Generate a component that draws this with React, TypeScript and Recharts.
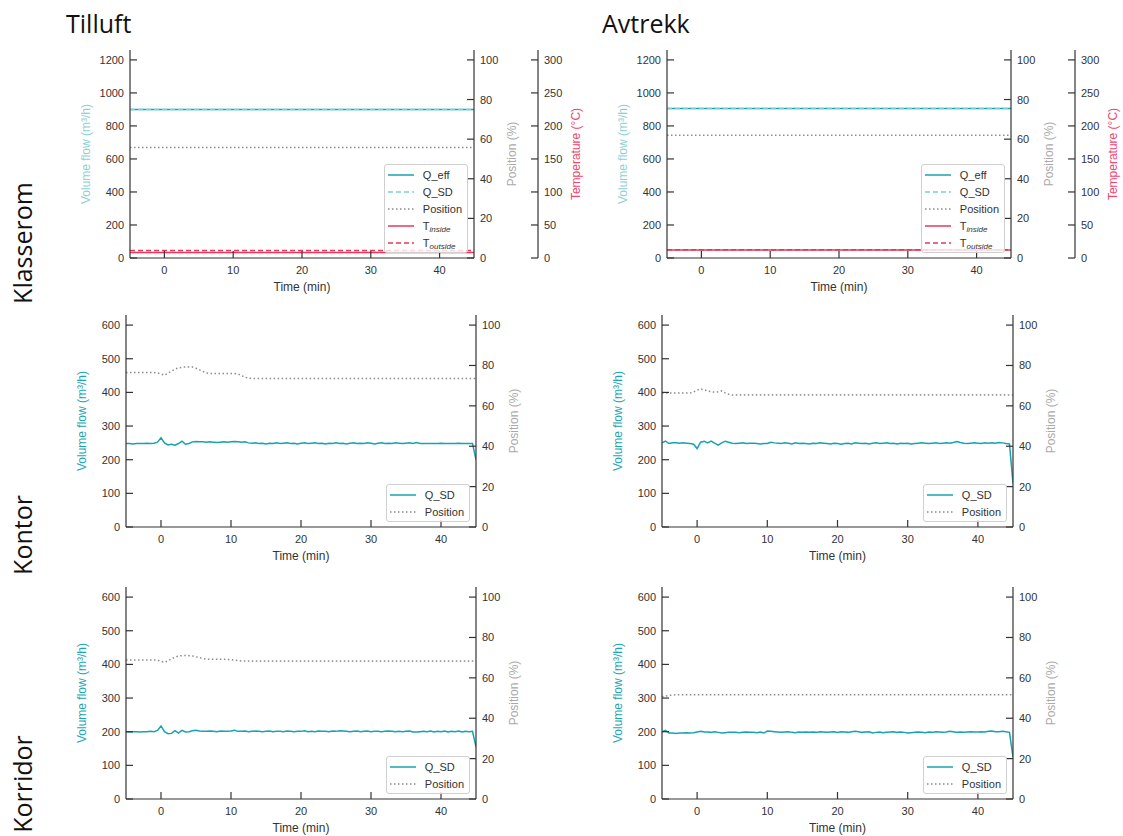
import React from 'react';
import { LineChart, Line, XAxis, YAxis, Legend } from 'recharts';

const FONT = '"Liberation Sans", Arial, sans-serif';
const TITLE_FONT = '"Open Sans", "Noto Sans", sans-serif';
const TEAL = '#17a3af';
const TEAL_LIGHT = '#7fcdcf';
const GREY = '#8c8c8c';
const RED = '#e8375b';
const AXIS = '#333';

// time axis (min), 0.5 min steps
const time = [
  -5, -4.5, -4, -3.5, -3, -2.5, -2, -1.5, -1, -0.5,
  0, 0.5, 1, 1.5, 2, 2.5, 3, 3.5, 4, 4.5,
  5, 5.5, 6, 6.5, 7, 7.5, 8, 8.5, 9, 9.5,
  10, 10.5, 11, 11.5, 12, 12.5, 13, 13.5, 14, 14.5,
  15, 15.5, 16, 16.5, 17, 17.5, 18, 18.5, 19, 19.5,
  20, 20.5, 21, 21.5, 22, 22.5, 23, 23.5, 24, 24.5,
  25, 25.5, 26, 26.5, 27, 27.5, 28, 28.5, 29, 29.5,
  30, 30.5, 31, 31.5, 32, 32.5, 33, 33.5, 34, 34.5,
  35, 35.5, 36, 36.5, 37, 37.5, 38, 38.5, 39, 39.5,
  40, 40.5, 41, 41.5, 42, 42.5, 43, 43.5, 44, 44.5,
  45,
];

// Klasserom (constant over the period)
const klasseromTime = [-5, 45];
const tilluftQEff = [900, 900];
const tilluftQSd = [900, 900];
const tilluftPos = [55.8, 55.8];
const tilluftTInside = [8.5, 8.5];
const tilluftTOutside = [11.5, 11.5];
const avtrekkQEff = [905, 905];
const avtrekkQSd = [905, 905];
const avtrekkPos = [62, 62];
const avtrekkTInside = [12, 12];
const avtrekkTOutside = [12.5, 12.5];

// Kontor
const kontorTilluftQ = [
  248, 248, 247, 248, 248, 248, 249, 248, 249, 252,
  265, 250, 244, 246, 243, 248, 255, 246, 248, 253,
  254, 253, 253, 252, 253, 252, 251, 252, 253, 252,
  253, 254, 253, 252, 253, 250, 249, 250, 248, 249,
  247, 249, 248, 250, 248, 249, 250, 248, 249, 247,
  249, 250, 248, 249, 250, 248, 249, 247, 249, 248,
  250, 248, 249, 247, 249, 250, 248, 249, 248, 250,
  249, 247, 249, 250, 248, 249, 248, 250, 249, 248,
  249, 250, 248, 251, 248, 248, 248, 248, 248, 248,
  249, 248, 248, 248, 248, 249, 248, 248, 248, 248,
  200,
];
const kontorTilluftPos = [
  76.5, 76.5, 76.5, 76.5, 76.5, 76.5, 76.5, 76.5, 76.5, 76.3,
  75.8, 75.2, 76.2, 77.2, 78.2, 78.8, 79.1, 79.3, 79.3, 79.2,
  78.6, 77.8, 77.0, 76.3, 76.0, 76.0, 76.0, 76.0, 76.0, 76.0,
  76.0, 76.0, 75.8, 75.0, 74.2, 73.7, 73.6, 73.6, 73.6, 73.6,
  73.6, 73.6, 73.6, 73.6, 73.6, 73.6, 73.6, 73.6, 73.6, 73.6,
  73.6, 73.6, 73.6, 73.6, 73.6, 73.6, 73.6, 73.6, 73.6, 73.6,
  73.6, 73.6, 73.6, 73.6, 73.6, 73.6, 73.6, 73.6, 73.6, 73.6,
  73.6, 73.6, 73.6, 73.6, 73.6, 73.6, 73.6, 73.6, 73.6, 73.6,
  73.6, 73.6, 73.6, 73.6, 73.6, 73.6, 73.6, 73.6, 73.6, 73.6,
  73.6, 73.6, 73.6, 73.6, 73.6, 73.6, 73.6, 73.6, 73.6, 73.6,
  73.6,
];
const kontorAvtrekkQ = [
  250, 255, 248, 250, 250, 249, 250, 249, 248, 246,
  233, 252, 255, 250, 255, 249, 243, 250, 255, 252,
  249, 248, 249, 250, 248, 249, 249, 248, 247, 248,
  248, 252, 250, 249, 248, 250, 249, 247, 250, 248,
  249, 248, 247, 249, 248, 250, 249, 248, 247, 249,
  248, 246, 248, 249, 247, 250, 249, 248, 249, 247,
  249, 250, 248, 249, 250, 248, 249, 247, 249, 248,
  249, 247, 248, 249, 250, 249, 248, 249, 250, 248,
  249, 250, 249, 251, 254, 251, 249, 248, 249, 250,
  249, 248, 250, 249, 250, 249, 251, 250, 248, 247,
  130,
];
const kontorAvtrekkPos = [
  66.4, 66.4, 66.4, 66.4, 66.4, 66.4, 66.4, 66.4, 66.4, 66.8,
  67.8, 68.4, 67.9, 67.4, 67.0, 66.8, 67.0, 67.4, 66.4, 65.7,
  65.4, 65.4, 65.4, 65.4, 65.4, 65.4, 65.4, 65.4, 65.4, 65.4,
  65.4, 65.4, 65.4, 65.4, 65.4, 65.4, 65.4, 65.4, 65.4, 65.4,
  65.4, 65.4, 65.4, 65.4, 65.4, 65.4, 65.4, 65.4, 65.4, 65.4,
  65.4, 65.4, 65.4, 65.4, 65.4, 65.4, 65.4, 65.4, 65.4, 65.4,
  65.4, 65.4, 65.4, 65.4, 65.4, 65.4, 65.4, 65.4, 65.4, 65.4,
  65.4, 65.4, 65.4, 65.4, 65.4, 65.4, 65.4, 65.4, 65.4, 65.4,
  65.4, 65.4, 65.4, 65.4, 65.4, 65.4, 65.4, 65.4, 65.4, 65.4,
  65.4, 65.4, 65.4, 65.4, 65.4, 65.4, 65.4, 65.4, 65.4, 65.4,
  65.4,
];

// Korridor
const korridorTilluftQ = [
  200, 199, 200, 200, 199, 200, 200, 201, 200, 204,
  217, 200, 194, 195, 203, 196, 204, 199, 200, 203,
  204, 202, 201, 201, 202, 201, 200, 202, 201, 201,
  202, 204, 201, 201, 202, 200, 201, 202, 201, 200,
  201, 202, 200, 201, 201, 200, 202, 201, 200, 201,
  201, 203, 200, 201, 200, 202, 201, 201, 200, 202,
  201, 203, 202, 201, 200, 201, 202, 200, 201, 202,
  200, 201, 201, 200, 201, 202, 201, 200, 201, 200,
  201, 202, 199, 199, 200, 201, 200, 202, 199, 201,
  200, 202, 199, 201, 200, 202, 199, 201, 200, 201,
  155,
];
const korridorTilluftPos = [
  68.9, 68.9, 68.9, 68.9, 68.9, 68.9, 68.9, 68.9, 68.9, 68.7,
  68.2, 67.7, 68.4, 69.4, 70.3, 70.8, 71.0, 71.1, 71.0, 70.8,
  70.4, 70.0, 69.6, 69.3, 69.2, 69.2, 69.2, 69.2, 69.2, 69.1,
  69.0, 68.8, 68.5, 68.4, 68.4, 68.4, 68.4, 68.4, 68.4, 68.4,
  68.4, 68.4, 68.4, 68.4, 68.4, 68.4, 68.4, 68.4, 68.4, 68.4,
  68.4, 68.4, 68.4, 68.4, 68.4, 68.4, 68.4, 68.4, 68.4, 68.4,
  68.4, 68.4, 68.4, 68.4, 68.4, 68.4, 68.4, 68.4, 68.4, 68.4,
  68.4, 68.4, 68.4, 68.4, 68.4, 68.4, 68.4, 68.4, 68.4, 68.4,
  68.4, 68.4, 68.4, 68.4, 68.4, 68.4, 68.4, 68.4, 68.4, 68.4,
  68.4, 68.4, 68.4, 68.4, 68.4, 68.4, 68.4, 68.4, 68.4, 68.4,
  68.4,
];
const korridorAvtrekkQ = [
  200, 204, 196, 196, 195, 196, 196, 197, 196, 197,
  199, 201, 199, 199, 198, 200, 198, 196, 197, 198,
  198, 198, 197, 198, 199, 198, 198, 197, 199, 196,
  202, 201, 200, 199, 198, 199, 200, 198, 197, 199,
  198, 199, 198, 199, 198, 200, 199, 198, 199, 200,
  198, 200, 199, 198, 200, 201, 200, 198, 199, 200,
  196, 198, 199, 197, 198, 199, 200, 198, 199, 198,
  196, 197, 198, 199, 198, 197, 199, 198, 200, 199,
  198, 199, 201, 200, 198, 199, 198, 199, 200, 199,
  199, 200, 199, 201, 202, 200, 200, 201, 200, 198,
  125,
];
const korridorAvtrekkPos = [
  50.6, 51.0, 51.3, 51.5, 51.6, 51.6, 51.6, 51.6, 51.6, 51.6,
  51.6, 51.6, 51.6, 51.6, 51.6, 51.6, 51.6, 51.6, 51.6, 51.6,
  51.6, 51.6, 51.6, 51.6, 51.6, 51.6, 51.6, 51.6, 51.6, 51.6,
  51.6, 51.6, 51.6, 51.6, 51.6, 51.6, 51.6, 51.6, 51.6, 51.6,
  51.6, 51.6, 51.6, 51.6, 51.6, 51.6, 51.6, 51.6, 51.6, 51.6,
  51.6, 51.6, 51.6, 51.6, 51.6, 51.6, 51.6, 51.6, 51.6, 51.6,
  51.6, 51.6, 51.6, 51.6, 51.6, 51.6, 51.6, 51.6, 51.6, 51.6,
  51.6, 51.6, 51.6, 51.6, 51.6, 51.6, 51.6, 51.6, 51.6, 51.6,
  51.6, 51.6, 51.6, 51.6, 51.6, 51.6, 51.6, 51.6, 51.6, 51.6,
  51.6, 51.6, 51.6, 51.6, 51.6, 51.6, 51.6, 51.6, 51.6, 51.6,
  51.6,
];

const xTicks = [0, 10, 20, 30, 40];
const posTicks = [0, 20, 40, 60, 80, 100];
const tempTicks = [0, 50, 100, 150, 200, 250, 300];
const flowTicksBig = [0, 200, 400, 600, 800, 1000, 1200];
const flowTicksSmall = [0, 100, 200, 300, 400, 500, 600];

const klasseromRows = (qEff: number[], qSd: number[], pos: number[], tIn: number[], tOut: number[]) =>
  klasseromTime.map((t, i) => ({ t, qEff: qEff[i], qSd: qSd[i], pos: pos[i], tIn: tIn[i], tOut: tOut[i] }));
const rows = (q: number[], pos: number[]) => time.map((t, i) => ({ t, q: q[i], pos: pos[i] }));

const TICK_LEN = 7;
const Y_GAP = 6;
const X_GAP = 8;
const axisLine = { stroke: AXIS, strokeWidth: 1.2 };

const leftTick = (p: any) => {
  const ax = p.x + Y_GAP;
  return (
    <g>
      <line x1={ax} x2={ax + TICK_LEN} y1={p.y} y2={p.y} stroke={AXIS} strokeWidth={1.2} />
      <text x={p.x} y={p.y + 4} textAnchor="end" fontSize={11} fill={AXIS} fontFamily={FONT}>{p.payload.value}</text>
    </g>
  );
};

const rightTick = (p: any) => {
  const ax = p.x - Y_GAP;
  return (
    <g>
      <line x1={ax - TICK_LEN} x2={ax} y1={p.y} y2={p.y} stroke={AXIS} strokeWidth={1.2} />
      <text x={p.x} y={p.y + 4} textAnchor="start" fontSize={11} fill={AXIS} fontFamily={FONT}>{p.payload.value}</text>
    </g>
  );
};

const bottomTick = (p: any) => {
  const ay = p.y - X_GAP;
  return (
    <g>
      <line x1={p.x} x2={p.x} y1={ay - TICK_LEN} y2={ay} stroke={AXIS} strokeWidth={1.2} />
      <text x={p.x} y={ay + 16} textAnchor="middle" fontSize={11} fill={AXIS} fontFamily={FONT}>{p.payload.value}</text>
    </g>
  );
};

const topTick = (p: any) => (
  <line x1={p.x} x2={p.x} y1={p.y} y2={p.y + TICK_LEN} stroke={AXIS} strokeWidth={1.2} />
);

const yTitle = (text: string, color: string, side: 'left' | 'right', off: number) => (props: any) => {
  const vb = props.viewBox;
  if (!vb) return null;
  const cx = side === 'left' ? vb.x + vb.width + off : vb.x + off;
  const cy = vb.y + vb.height / 2;
  return (
    <text x={cx} y={cy} transform={`rotate(-90 ${cx} ${cy})`} textAnchor="middle" dominantBaseline="central"
      fill={color} fontSize={12} fontFamily={FONT}>{text}</text>
  );
};

const timeTitle = (props: any) => {
  const vb = props.viewBox;
  if (!vb) return null;
  return (
    <text x={vb.x + vb.width / 2} y={vb.y + 33} textAnchor="middle" fill={AXIS} fontSize={12} fontFamily={FONT}>Time (min)</text>
  );
};

type LegendItem = { label: React.ReactNode; color: string; dash?: string };

const sub = (s: string) => (
  <span>T<span style={{ fontStyle: 'italic', fontSize: 8, position: 'relative', top: 2 }}>{s}</span></span>
);

const klasseromLegend: LegendItem[] = [
  { label: 'Q_eff', color: TEAL },
  { label: 'Q_SD', color: TEAL_LIGHT, dash: '5 3' },
  { label: 'Position', color: GREY, dash: '1.5 2.5' },
  { label: sub('inside'), color: RED },
  { label: sub('outside'), color: RED, dash: '5 3' },
];
const flowLegend: LegendItem[] = [
  { label: 'Q_SD', color: TEAL },
  { label: 'Position', color: GREY, dash: '1.5 2.5' },
];

const LegendBox = ({ items }: { items: LegendItem[] }) => (
  <div style={{
    border: '1px solid #d0d0d0', borderRadius: 3, background: 'rgba(255,255,255,0.8)',
    padding: '1px 5px 1px 3px', fontFamily: FONT, fontSize: 11, color: AXIS,
  }}>
    {items.map((it, i) => (
      <div key={i} style={{ display: 'flex', alignItems: 'center', height: 17, whiteSpace: 'nowrap' }}>
        <svg width={26} height={6} style={{ marginRight: 9 }}>
          <line x1={0} x2={26} y1={3} y2={3} stroke={it.color} strokeWidth={1.5} strokeDasharray={it.dash} />
        </svg>
        {it.label}
      </div>
    ))}
  </div>
);

type SeriesDef = { key: string; axis: 'q' | 'pos' | 'temp'; color: string; dash?: string };

type PanelProps = {
  px: number; py: number; pw: number; ph: number;
  data: any[]; series: SeriesDef[];
  flowTicks: number[]; flowMax: number;
  withTemp: boolean; legend: LegendItem[]; flowColor: string;
};

const Panel = ({ px, py, pw, ph, data, series, flowTicks, flowMax, withTemp, legend, flowColor }: PanelProps) => {
  const POS_W = 64;
  const TEMP_W = 60;
  const rightW = POS_W + (withTemp ? TEMP_W : 0) + 5;
  const width = 70 + pw + rightW;
  const height = 10 + ph + 40;
  return (
    <div style={{ position: 'absolute', left: px - 70, top: py - 10 }}>
      <LineChart width={width} height={height} data={data} margin={{ top: 10, right: 5, bottom: 0, left: 0 }}>
        <XAxis xAxisId="b" dataKey="t" type="number" domain={[-5, 45]} ticks={xTicks} interval={0} allowDataOverflow
          height={40} tickSize={0} tickMargin={X_GAP} tickLine={false} axisLine={axisLine} tick={bottomTick} label={timeTitle} />
        <XAxis xAxisId="t" orientation="top" dataKey="t" type="number" domain={[-5, 45]} ticks={xTicks} interval={0} allowDataOverflow
          height={0} tickSize={0} tickMargin={0} tickLine={false} axisLine={axisLine} tick={topTick} />
        <YAxis yAxisId="q" orientation="left" width={70} type="number" domain={[0, flowMax]} ticks={flowTicks} interval={0}
          allowDataOverflow tickSize={0} tickMargin={Y_GAP} tickLine={false} axisLine={axisLine} tick={leftTick}
          label={yTitle('Volume flow (m³/h)', flowColor, 'left', -44)} />
        <YAxis yAxisId="pos" orientation="right" width={POS_W} type="number" domain={[0, 105]} ticks={posTicks} interval={0}
          allowDataOverflow tickSize={0} tickMargin={Y_GAP} tickLine={false} axisLine={axisLine} tick={rightTick}
          label={yTitle('Position (%)', '#aaaaaa', 'right', 38)} />
        {withTemp && (
          <YAxis yAxisId="temp" orientation="right" width={TEMP_W} type="number" domain={[0, 315]} ticks={tempTicks} interval={0}
            allowDataOverflow tickSize={0} tickMargin={Y_GAP} tickLine={false} axisLine={axisLine} tick={rightTick}
            label={yTitle('Temperature (°C)', '#f0456e', 'right', 38)} />
        )}
        <Legend layout="horizontal" verticalAlign="middle" align="center"
          wrapperStyle={{ right: rightW + 6, bottom: 40 + 5, left: 'auto', top: 'auto', width: 'auto', height: 'auto' }}
          content={() => <LegendBox items={legend} />} />
        {series.map((s) => (
          <Line key={s.key} xAxisId="b" yAxisId={s.axis} dataKey={s.key} type="linear" stroke={s.color} strokeWidth={1.5}
            strokeDasharray={s.dash} dot={false} activeDot={false} isAnimationActive={false} />
        ))}
      </LineChart>
    </div>
  );
};

const klasseromSeries: SeriesDef[] = [
  { key: 'qEff', axis: 'q', color: TEAL },
  { key: 'qSd', axis: 'q', color: TEAL_LIGHT, dash: '5 3' },
  { key: 'pos', axis: 'pos', color: GREY, dash: '1.5 2.5' },
  { key: 'tIn', axis: 'temp', color: RED },
  { key: 'tOut', axis: 'temp', color: RED, dash: '5 3' },
];
const flowSeries: SeriesDef[] = [
  { key: 'q', axis: 'q', color: TEAL },
  { key: 'pos', axis: 'pos', color: GREY, dash: '1.5 2.5' },
];

export default function App() {
  return (
    <div style={{ position: 'absolute', left: 0, top: 0, width: 1123, height: 836, overflow: 'hidden', background: '#fff' }}>
      <svg width={1123} height={836} style={{ position: 'absolute', left: 0, top: 0 }}>
        <g fontFamily={TITLE_FONT} fontSize={25} fill="#111">
          <text x={66} y={33}>Tilluft</text>
          <text x={602} y={33}>Avtrekk</text>
          <text transform="translate(32,243) rotate(-90)" textAnchor="middle">Klasserom</text>
          <text transform="translate(32,535) rotate(-90)" textAnchor="middle">Kontor</text>
          <text transform="translate(32,784) rotate(-90)" textAnchor="middle">Korridor</text>
        </g>
      </svg>
      <Panel px={130} py={50} pw={344} ph={208}
        data={klasseromRows(tilluftQEff, tilluftQSd, tilluftPos, tilluftTInside, tilluftTOutside)}
        series={klasseromSeries} flowTicks={flowTicksBig} flowMax={1260} withTemp legend={klasseromLegend} flowColor="#8dd0d2" />
      <Panel px={667} py={50} pw={344} ph={208}
        data={klasseromRows(avtrekkQEff, avtrekkQSd, avtrekkPos, avtrekkTInside, avtrekkTOutside)}
        series={klasseromSeries} flowTicks={flowTicksBig} flowMax={1260} withTemp legend={klasseromLegend} flowColor="#8dd0d2" />
      <Panel px={126} py={315} pw={350} ph={212} data={rows(kontorTilluftQ, kontorTilluftPos)}
        series={flowSeries} flowTicks={flowTicksSmall} flowMax={630} withTemp={false} legend={flowLegend} flowColor="#1aa6b3" />
      <Panel px={662} py={315} pw={351} ph={212} data={rows(kontorAvtrekkQ, kontorAvtrekkPos)}
        series={flowSeries} flowTicks={flowTicksSmall} flowMax={630} withTemp={false} legend={flowLegend} flowColor="#1aa6b3" />
      <Panel px={126} py={587} pw={350} ph={212} data={rows(korridorTilluftQ, korridorTilluftPos)}
        series={flowSeries} flowTicks={flowTicksSmall} flowMax={630} withTemp={false} legend={flowLegend} flowColor="#1aa6b3" />
      <Panel px={662} py={587} pw={351} ph={212} data={rows(korridorAvtrekkQ, korridorAvtrekkPos)}
        series={flowSeries} flowTicks={flowTicksSmall} flowMax={630} withTemp={false} legend={flowLegend} flowColor="#1aa6b3" />
    </div>
  );
}
